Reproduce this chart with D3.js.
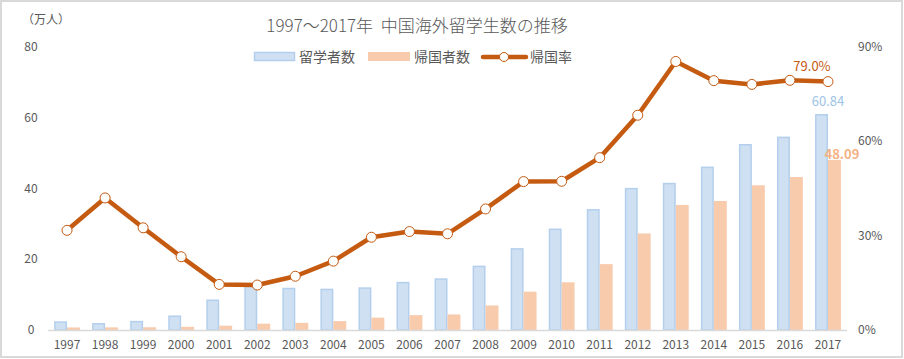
<!DOCTYPE html>
<html><head><meta charset="utf-8">
<script src="https://cdn.jsdelivr.net/npm/d3@7"></script>
<style>body{margin:0;background:#fff}svg{display:block;font-family:"Noto Sans CJK JP","Noto Sans",sans-serif}</style>
</head><body><svg id="c" width="904" height="359"></svg>
<script>
const years = ["1997","1998","1999","2000","2001","2002","2003","2004","2005","2006","2007","2008","2009","2010","2011","2012","2013","2014","2015","2016","2017"];
const students = [2.24,1.76,2.37,3.90,8.40,12.50,11.73,11.47,11.85,13.40,14.40,17.98,22.93,28.47,33.97,39.96,41.39,45.98,52.37,54.45,60.84];
const returnees = [0.71,0.74,0.77,0.91,1.22,1.79,2.01,2.51,3.50,4.20,4.40,6.93,10.83,13.48,18.62,27.29,35.35,36.48,40.91,43.25,48.09];
const rate = [31.7,42.0,32.5,23.3,14.5,14.3,17.1,21.9,29.5,31.3,30.6,38.5,47.2,47.3,54.8,68.3,85.4,79.3,78.1,79.4,79.0];
const leftTicks = [0,20,40,60,80];
const rightTicks = [0,30,60,90];
const seriesNames = ["留学者数","帰国者数","帰国率"];
const title = "1997～2017年  中国海外留学生数の推移";
const unitLabel = "（万人）";

const svg = d3.select("#c");
const gray = "#595959";
svg.append("rect").attr("x",1).attr("y",1).attr("width",901).attr("height",356)
  .attr("fill","#fff").attr("stroke","#d9d9d9").attr("stroke-width",2);

const x = d3.scaleBand().domain(years).range([48,847]);
const yL = d3.scaleLinear().domain([0,80]).range([330,47]);
const yR = d3.scaleLinear().domain([0,90]).range([330,47]);
const bw = x.step()*0.34;

// title
svg.append("text").attr("x",417).attr("y",32).attr("text-anchor","middle")
  .style("white-space","pre").attr("font-size",17).attr("font-weight",300)
  .attr("fill",gray).text(title);

// axes labels
svg.append("text").attr("x",22).attr("y",24).attr("font-size",12).attr("fill",gray).text(unitLabel);
svg.selectAll(".lt").data(leftTicks).join("text").attr("x",31).attr("y",d=>yL(d)+4)
  .attr("text-anchor","middle").attr("font-size",12).attr("fill",gray).text(d=>d);
svg.selectAll(".rt").data(rightTicks).join("text").attr("x",858).attr("y",d=>yR(d)+4)
  .attr("font-size",12).attr("fill",gray).text(d=>d+"%");
svg.selectAll(".xt").data(years).join("text").attr("x",d=>x(d)+x.bandwidth()/2).attr("y",349)
  .attr("text-anchor","middle").attr("font-size",12).attr("fill",gray).text(d=>d);

// bars
svg.selectAll(".bs").data(years).join("rect")
  .attr("x",(d)=>x(d)+x.bandwidth()/2-bw+0.75).attr("width",bw-1.5)
  .attr("y",(d,i)=>yL(students[i])).attr("height",(d,i)=>330-yL(students[i]))
  .attr("fill","#cfe0f2").attr("stroke","#b4cfed").attr("stroke-width",1.5);
svg.selectAll(".br").data(years).join("rect")
  .attr("x",(d)=>x(d)+x.bandwidth()/2).attr("width",bw)
  .attr("y",(d,i)=>yL(returnees[i])).attr("height",(d,i)=>330-yL(returnees[i]))
  .attr("fill","#f8cbad");

// axis line
svg.append("line").attr("x1",48).attr("x2",847).attr("y1",330.5).attr("y2",330.5)
  .attr("stroke","#d9d9d9").attr("stroke-width",1.5);

// line
const lc = "#c55a11";
const line = d3.line().x((d,i)=>x(years[i])+x.bandwidth()/2).y(d=>yR(d));
svg.append("path").datum(rate).attr("d",line).attr("fill","none").attr("stroke",lc)
  .attr("stroke-width",4.5).attr("stroke-linejoin","round");
svg.selectAll(".mk").data(rate).join("circle")
  .attr("cx",(d,i)=>x(years[i])+x.bandwidth()/2).attr("cy",d=>yR(d)).attr("r",5)
  .attr("fill","#fff").attr("stroke",lc).attr("stroke-width",1);

// data labels
const last = years.length-1;
const cx = x(years[last])+x.bandwidth()/2;
svg.append("text").attr("x",cx-16).attr("y",yR(rate[last])-11).attr("text-anchor","middle")
  .attr("font-size",13).attr("fill",lc).text(rate[last].toFixed(1)+"%");
svg.append("text").attr("x",cx).attr("y",yL(students[last])-9).attr("text-anchor","middle")
  .attr("font-size",13).attr("fill","#9dc3e6").text(students[last].toFixed(2));
svg.append("text").attr("x",cx+14).attr("y",yL(returnees[last])-1).attr("text-anchor","middle")
  .attr("font-size",13).attr("font-weight","bold").attr("fill","#f4b183").text(returnees[last].toFixed(2));

// legend
const lg = svg.append("g");
lg.append("rect").attr("x",254.5).attr("y",52.5).attr("width",40).attr("height",8)
  .attr("fill","#cfe0f2").attr("stroke","#b4cfed").attr("stroke-width",1.5);
lg.append("text").attr("x",299).attr("y",62).attr("font-size",14).attr("fill",gray).text(seriesNames[0]);
lg.append("rect").attr("x",368).attr("y",52).attr("width",42).attr("height",9).attr("fill","#f8cbad");
lg.append("text").attr("x",414).attr("y",62).attr("font-size",14).attr("fill",gray).text(seriesNames[1]);
lg.append("line").attr("x1",483).attr("x2",526).attr("y1",57).attr("y2",57).attr("stroke",lc).attr("stroke-width",4.5).attr("stroke-linecap","round");
lg.append("circle").attr("cx",504).attr("cy",57).attr("r",4.5).attr("fill","#fff").attr("stroke",lc).attr("stroke-width",1);
lg.append("text").attr("x",530).attr("y",62).attr("font-size",14).attr("fill",gray).text(seriesNames[2]);
</script></body></html>
